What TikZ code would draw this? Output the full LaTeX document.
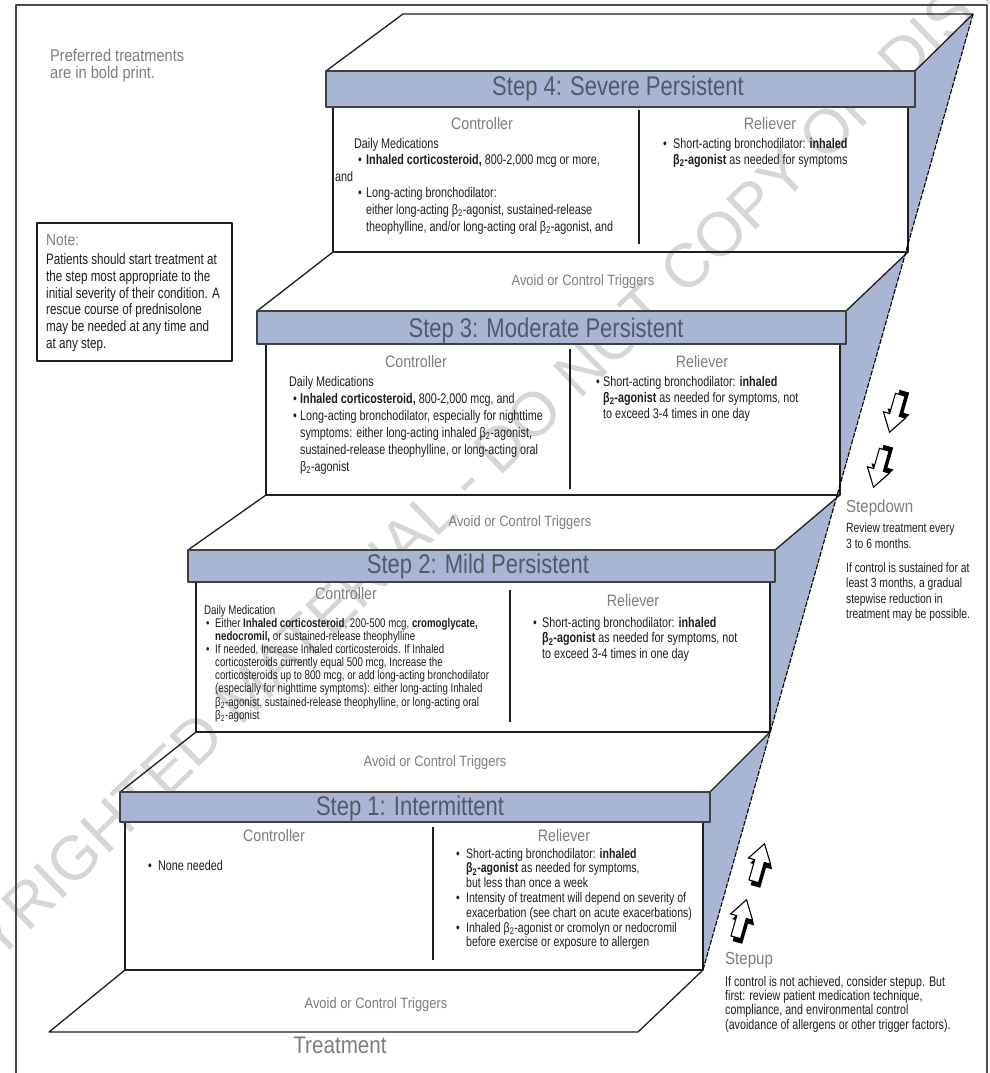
\documentclass[tikz,border=0pt]{standalone}
\usepackage{fontspec}
\setmainfont{Liberation Sans}
\newfontfamily\condf[FakeStretch=0.77]{Liberation Sans}
\newfontfamily\lightf[FakeStretch=0.86]{Liberation Sans}
\newfontfamily\hdrf[FakeStretch=0.815]{Liberation Sans}
\definecolor{stepblue}{RGB}{168,182,212}
\definecolor{hdrtext}{RGB}{85,88,105}
\definecolor{lblgray}{RGB}{125,125,132}
\definecolor{txtcol}{RGB}{32,28,36}
\definecolor{edgecol}{RGB}{30,30,30}
\definecolor{wmgray}{RGB}{214,214,214}
\newcommand\tbul[1][8pt]{\makebox[#1][l]{\textbullet}}
\newcommand\tind[1][8pt]{\hspace*{#1}}
\newcommand\btwo{β\textsubscript{2}}
\tikzset{
  edge/.style={draw=edgecol, line width=1.3pt},
  hdrbox/.style={fill=stepblue, draw=edgecol!85, line width=1.4pt},
  bodybox/.style={draw=edgecol, line width=1.3pt},
  divider/.style={draw=edgecol, line width=1.3pt},
  frameline/.style={draw=edgecol!80, line width=1.2pt},
  longline/.style={draw=black, line width=1.1pt, dash pattern=on 5pt off 1.5pt},
  hdr/.style={anchor=base, inner sep=0pt, text=hdrtext, font=\hdrf\fontsize{27}{30}\selectfont},
  lbl/.style={anchor=base, inner sep=0pt, text=lblgray, font=\lightf\fontsize{16.6}{19}\selectfont},
  avoid/.style={anchor=base, inner sep=0pt, text=lblgray, font=\lightf\fontsize{15}{17}\selectfont},
  txt/.style={anchor=north west, inner sep=0pt, align=left, text=txtcol},
  arrowbody/.style={fill=white, draw=black, line width=1.1pt, line join=miter},
  wm/.style={text=wmgray, inner sep=0pt, font=\fontsize{62}{62}\selectfont},
  downarr/.pic={
    \fill[black, shift={(3,-4.5)}] (-5,-19) -- (5,-19) -- (5,2) -- (11.5,2) -- (0,20) -- (-11.5,2) -- (-5,2) -- cycle;
    \draw[arrowbody] (-5,-19) -- (5,-19) -- (5,2) -- (11.5,2) -- (0,20) -- (-11.5,2) -- (-5,2) -- cycle;
  },
  uparr/.pic={
    \fill[black, shift={(3,4.5)}] (-5,19) -- (5,19) -- (5,-2) -- (11.5,-2) -- (0,-20) -- (-11.5,-2) -- (-5,-2) -- cycle;
    \draw[arrowbody] (-5,19) -- (5,19) -- (5,-2) -- (11.5,-2) -- (0,-20) -- (-11.5,-2) -- (-5,-2) -- cycle;
  },
}
\begin{document}
\begin{tikzpicture}[x=1pt,y=-1pt,line join=round]
\useasboundingbox (0,0) rectangle (990,1073);
\begin{scope}
\clip (0,0) rectangle (990,1073);
\fill[white] (0,0) rectangle (990,1073);
% watermark
\node[wm, rotate=44] (wmk) at (520,428) {COPYRIGHTED MATERIAL - DO NOT COPY OR DISTRIBUTE};
% frame
\draw[frameline] (16,1080) -- (16,5) -- (987,5) -- (987,1080);
% blue side
\fill[stepblue] (973,14) -- (915,71) -- (915,107) -- (908,107) -- (908,252) -- (846,311) -- (846,344) -- (840,344) -- (840,495) -- (775,550) -- (775,582) -- (770,582) -- (770,732) -- (710,792) -- (710,822) -- (703,822) -- (703,970) -- cycle;
% treads
\draw[edge] (326,71) -- (403,14) -- (973,14) -- (915,71);
\draw[edge] (333,252) -- (257,311);
\draw[edge] (908,252) -- (846,311);
\draw[edge] (266,495) -- (188,550);
\draw[edge] (840,495) -- (775,550);
\draw[edge] (196,732) -- (120,792);
\draw[edge] (770,732) -- (710,792);
\draw[edge] (125,970) -- (49,1032) -- (638,1032) -- (703,970);
% bodies
\draw[bodybox] (333,107) rectangle (908,252);
\draw[bodybox] (266,344) rectangle (840,495);
\draw[bodybox] (196,582) rectangle (770,732);
\draw[bodybox] (125,822) rectangle (703,970);
% headers
\draw[hdrbox] (326,71) rectangle (915,107);
\draw[hdrbox] (257,311) rectangle (846,344);
\draw[hdrbox] (188,550) rectangle (775,582);
\draw[hdrbox] (120,792) rectangle (710,822);
% dividers
\draw[divider] (639,110) -- (639,244);
\draw[divider] (570,349) -- (570,489);
\draw[divider] (510,590) -- (510,722);
\draw[divider] (433,827) -- (433,960);
% long right line
\draw[longline] (973,14) -- (703,970);
% note box
\draw[edge, line width=1.2pt] (37,223) rectangle (232,361);
% arrows
\pic[rotate=-16] at (895,413) {downarr};
\pic[rotate=-16] at (879,468) {downarr};
\pic[rotate=-16] at (759,863) {uparr};
\pic[rotate=-16] at (741,919) {uparr};
\end{scope}

% header texts
\node[hdr] (h4) at (618,95) {Step 4: Severe Persistent};
\node[hdr] (h3) at (546,337) {Step 3: Moderate Persistent};
\node[hdr] (h2) at (478,573) {Step 2: Mild Persistent};
\node[hdr] (h1) at (410,815) {Step 1: Intermittent};

% column labels
\node[lbl] (c4) at (482,129) {Controller};
\node[lbl] (r4) at (770,129) {Reliever};
\node[lbl] (c3) at (416,367) {Controller};
\node[lbl] (r3) at (702,367) {Reliever};
\node[lbl] (c2) at (346,599) {Controller};
\node[lbl] (r2) at (633,606) {Reliever};
\node[lbl] (c1) at (274,841) {Controller};
\node[lbl] (r1) at (564,841) {Reliever};

% avoid labels
\node[avoid] (a4) at (583,285) {Avoid or Control Triggers};
\node[avoid] (a3) at (520,526) {Avoid or Control Triggers};
\node[avoid] (a2) at (435,766) {Avoid or Control Triggers};
\node[avoid] (a1) at (376,1008) {Avoid or Control Triggers};
\node[avoid, font=\lightf\fontsize{24}{26}\selectfont] (treat) at (340,1053) {Treatment};

% side notes
\node[txt, text=lblgray, font=\lightf\fontsize{17}{16.5}\selectfont] (pref) at (50,49) {Preferred treatments\\are in bold print.};
\node[lbl, anchor=base west, font=\lightf\fontsize{16}{18}\selectfont] (notel) at (46,245) {Note:};
\node[txt, font=\condf\fontsize{15.1}{16.7}\selectfont] (notet) at (46,253.5) {Patients should start treatment at\\the step most appropriate to the\\initial severity of their condition. A\\rescue course of prednisolone\\may be needed at any time and\\at any step.};

\node[lbl, anchor=base west, font=\lightf\fontsize{17.5}{19}\selectfont] (sdl) at (846,512) {Stepdown};
\node[txt, font=\condf\fontsize{13.4}{15.3}\selectfont] (sdt) at (846,523) {Review treatment every\\3 to 6 months.\\[9pt]If control is sustained for at\\least 3 months, a gradual\\stepwise reduction in\\treatment may be possible.};

\node[lbl, anchor=base west, font=\lightf\fontsize{17.5}{19}\selectfont] (sul) at (725,964) {Stepup};
\node[txt, font=\condf\fontsize{13.9}{14.3}\selectfont] (sut) at (725,976) {If control is not achieved, consider stepup. But\\first: review patient medication technique,\\compliance, and environmental control\\(avoidance of allergens or other trigger factors).};

% step 4 texts
\node[txt, font=\condf\fontsize{14}{16.6}\selectfont] (s4c) at (335,137.8) {\hspace*{19pt}Daily Medications\\
\hspace*{23pt}\tbul\textbf{Inhaled corticosteroid,} 800-2,000 mcg or more,\\
and\\
\hspace*{23pt}\tbul Long-acting bronchodilator:\\
\hspace*{31pt}either long-acting \btwo-agonist, sustained-release\\
\hspace*{31pt}theophylline, and/or long-acting oral \btwo-agonist, and};
\node[txt, font=\condf\fontsize{14}{16.6}\selectfont] (s4r) at (663,137.8) {\tbul[10pt]Short-acting bronchodilator: \textbf{inhaled}\\
\tind[10pt]\textbf{\btwo-agonist} as needed for symptoms};

% step 3 texts
\node[txt, font=\condf\fontsize{14}{17}\selectfont] (s3c) at (289,375.8) {Daily Medications\\
\hspace*{4pt}\tbul[7pt]\textbf{Inhaled corticosteroid,} 800-2,000 mcg, and\\
\hspace*{4pt}\tbul[7pt]Long-acting bronchodilator, especially for nighttime\\
\hspace*{11pt}symptoms: either long-acting inhaled \btwo-agonist,\\
\hspace*{11pt}sustained-release theophylline, or long-acting oral\\
\hspace*{11pt}\btwo-agonist};
\node[txt, font=\condf\fontsize{14}{16}\selectfont] (s3r) at (596,376) {\tbul[7pt]Short-acting bronchodilator: \textbf{inhaled}\\
\tind[7pt]\textbf{\btwo-agonist} as needed for symptoms, not\\
\tind[7pt]to exceed 3-4 times in one day};

% step 2 texts
\node[txt, font=\condf\fontsize{12.6}{13.1}\selectfont] (s2c) at (204,605) {Daily Medication\\
\hspace*{2pt}\tbul[9pt]Either \textbf{Inhaled corticosteroid}, 200-500 mcg, \textbf{cromoglycate,}\\
\hspace*{11pt}\textbf{nedocromil,} or sustained-release theophylline\\
\hspace*{2pt}\tbul[9pt]If needed, Increase Inhaled corticosteroids. If Inhaled\\
\hspace*{11pt}corticosteroids currently equal 500 mcg, Increase the\\
\hspace*{11pt}corticosteroids up to 800 mcg, or add long-acting bronchodilator\\
\hspace*{11pt}(especially for nighttime symptoms): either long-acting Inhaled\\
\hspace*{11pt}\btwo-agonist, sustained-release theophylline, or long-acting oral\\
\hspace*{11pt}\btwo-agonist};
\node[txt, font=\condf\fontsize{14}{15.5}\selectfont] (s2r) at (533,617) {\tbul[9pt]Short-acting bronchodilator: \textbf{inhaled}\\
\tind[9pt]\textbf{\btwo-agonist} as needed for symptoms, not\\
\tind[9pt]to exceed 3-4 times in one day};

% step 1 texts
\node[txt, font=\condf\fontsize{14}{15}\selectfont] (s1c) at (148,860) {\tbul[10pt]None needed};
\node[txt, font=\condf\fontsize{13.7}{14.8}\selectfont] (s1r) at (456,848) {\tbul[10pt]Short-acting bronchodilator: \textbf{inhaled}\\
\tind[10pt]\textbf{\btwo-agonist} as needed for symptoms,\\
\tind[10pt]but less than once a week\\
\tbul[10pt]Intensity of treatment will depend on severity of\\
\tind[10pt]exacerbation (see chart on acute exacerbations)\\
\tbul[10pt]Inhaled \btwo-agonist or cromolyn or nedocromil\\
\tind[10pt]before exercise or exposure to allergen};
\end{tikzpicture}
\end{document}
